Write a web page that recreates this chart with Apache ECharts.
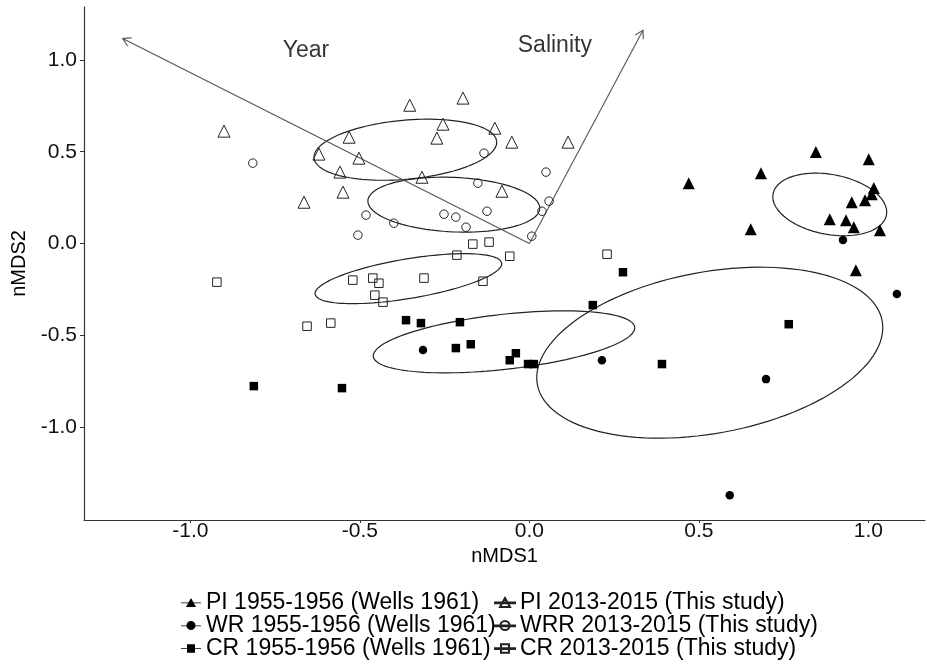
<!DOCTYPE html>
<html>
<head>
<meta charset="UTF-8">
<title>nMDS</title>
<script src="https://cdn.jsdelivr.net/npm/echarts@6/dist/echarts.min.js"></script>
<style>
html, body { margin: 0; padding: 0; background: #fff; }
#main { width: 927px; height: 665px; }
</style>
</head>
<body>
<div id="main"></div>
<script>
// series names (legend order)
var namePiOld = 'PI 1955-1956 (Wells 1961)';
var nameWrOld = 'WR 1955-1956 (Wells 1961)';
var nameCrOld = 'CR 1955-1956 (Wells 1961)';
var namePiNew = 'PI 2013-2015 (This study)';
var nameWrNew = 'WRR 2013-2015 (This study)';
var nameCrNew = 'CR 2013-2015 (This study)';

// nMDS scores [nMDS1, nMDS2]
var piOld = [[0.470, 0.329], [0.653, 0.078], [0.683, 0.383], [0.845, 0.498], [0.886, 0.133],
  [0.934, 0.127], [0.951, 0.225], [0.957, 0.089], [0.963, -0.145], [0.990, 0.236],
  [1.001, 0.459], [1.010, 0.269], [1.016, 0.302], [1.034, 0.073]];
var wrOld = [[-0.314, -0.580], [0.214, -0.635], [0.591, -1.370], [0.698, -0.738],
  [0.925, 0.019], [1.084, -0.275]];
var crOld = [[-0.813, -0.776], [-0.553, -0.787], [-0.364, -0.417], [-0.320, -0.433],
  [-0.217, -0.569], [-0.205, -0.428], [-0.173, -0.548], [-0.058, -0.635], [-0.040, -0.597],
  [-0.004, -0.656], [0.013, -0.656], [0.187, -0.335], [0.276, -0.156], [0.391, -0.656],
  [0.765, -0.439]];
var piNew = [[-0.901, 0.612], [-0.665, 0.225], [-0.621, 0.487], [-0.559, 0.389], [-0.550, 0.280],
  [-0.532, 0.579], [-0.503, 0.465], [-0.353, 0.753], [-0.317, 0.361], [-0.273, 0.574],
  [-0.255, 0.650], [-0.196, 0.792], [-0.102, 0.628], [-0.081, 0.285], [-0.052, 0.552],
  [0.114, 0.552]];
var wrNew = [[-0.816, 0.438], [-0.506, 0.046], [-0.482, 0.155], [-0.400, 0.111], [-0.252, 0.160],
  [-0.217, 0.144], [-0.187, 0.089], [-0.152, 0.329], [-0.134, 0.492], [-0.125, 0.176],
  [0.007, 0.040], [0.037, 0.176], [0.049, 0.389], [0.058, 0.231]];
var crNew = [[-0.922, -0.210], [-0.656, -0.450], [-0.586, -0.433], [-0.521, -0.199], [-0.462, -0.188],
  [-0.444, -0.216], [-0.456, -0.281], [-0.432, -0.319], [-0.311, -0.188], [-0.214, -0.063],
  [-0.167, -0.003], [-0.119, 0.008], [-0.137, -0.205], [-0.058, -0.069], [0.229, -0.058]];

// 95% ellipses: [centre x, centre y, semi-axis u (x, y), semi-axis v (x, y)]
var ellPiOld = [0.886, 0.213, 0.1673, -0.0577, -0.0162, -0.1604];
var ellWrOld = [0.532, -0.594, 0.5086, 0.1734, 0.0432, -0.4320];
var ellCrOld = [-0.075, -0.535, 0.3858, 0.0797, 0.0090, -0.1488];
var ellPiNew = [-0.366, 0.511, 0.2696, 0.0452, 0.0080, -0.1600];
var ellWrNew = [-0.223, 0.212, 0.2537, -0.0211, -0.0036, -0.1480];
var ellCrNew = [-0.357, -0.191, 0.2755, 0.0849, 0.0096, -0.1062];

// environmental vectors [x0, y0, x1, y1] and their labels
var vectors = [[0, 0, -1.200, 1.117], [0, 0, 0.335, 1.162]];
var vectorNames = ['Year', 'Salinity'];
var vectorLabelPos = [[-0.659, 1.053], [0.075, 1.075]];

var xTicks = [-1.0, -0.5, 0.0, 0.5, 1.0];
var yTicks = [-1.0, -0.5, 0.0, 0.5, 1.0];

var font = "'Liberation Sans', Arial, sans-serif";

function ellipsePoints(e) {
  var pts = [];
  for (var i = 0; i <= 120; i++) {
    var t = 2 * Math.PI * i / 120;
    pts.push([e[0] + e[2] * Math.cos(t) + e[4] * Math.sin(t),
              e[1] + e[3] * Math.cos(t) + e[5] * Math.sin(t)]);
  }
  return pts;
}

function ellipseSeries(e) {
  return {
    type: 'line', data: ellipsePoints(e), showSymbol: false, symbol: 'none',
    silent: true, smooth: false, z: 1,
    lineStyle: { color: '#222', width: 1.2 }
  };
}

function pointSeries(name, data, symbol, size, filled) {
  return {
    name: name, type: 'scatter', data: data, symbol: symbol, symbolSize: size, z: 3,
    itemStyle: filled ? { color: '#000', borderWidth: 0, opacity: 1 }
                      : { color: 'rgba(0,0,0,0)', borderColor: '#222', borderWidth: 1, opacity: 1 }
  };
}

// legend glyphs: symbol with a line through it
var iconTri = 'path://M0,6 L20,6 L20,6.8 L0,6.8 Z M10,1.5 L15,10.5 L5,10.5 Z';
var iconCir = 'path://M0,6 L20,6 L20,6.8 L0,6.8 Z M14.5,6 A4.5,4.5 0 1 1 5.5,6 A4.5,4.5 0 1 1 14.5,6 Z';
var iconSq = 'path://M0,6 L20,6 L20,6.8 L0,6.8 Z M6,2 L14,2 L14,10.5 L6,10.5 Z';

var legendText = { color: '#000', fontSize: 23, fontFamily: font, lineHeight: 23 };

var chart = echarts.init(document.getElementById('main'));

var option = {
  animation: false,
  backgroundColor: '#fff',
  grid: { left: 84, right: 2, top: 7, bottom: 145, containLabel: false, outerBoundsMode: 'none' },
  xAxis: {
    type: 'value', min: -1.314, max: 1.167,
    name: 'nMDS1', nameLocation: 'middle', nameGap: 11,
    nameTextStyle: { color: '#000', fontSize: 20, fontFamily: font },
    axisLine: { show: true, onZero: false, lineStyle: { color: '#333', width: 1.2 } },
    axisTick: { show: true, length: 3, customValues: xTicks, lineStyle: { color: '#333' } },
    axisLabel: { customValues: xTicks, margin: 1, color: '#111', fontSize: 21, fontFamily: font,
      formatter: function (v) { return v.toFixed(1); } },
    splitLine: { show: false }
  },
  yAxis: {
    type: 'value', min: -1.505, max: 1.288,
    name: 'nMDS2', nameLocation: 'middle', nameRotate: 90, nameGap: 40,
    nameTextStyle: { color: '#000', fontSize: 20, fontFamily: font },
    axisLine: { show: true, onZero: false, lineStyle: { color: '#333', width: 1.2 } },
    axisTick: { show: true, length: 4, customValues: yTicks, lineStyle: { color: '#333' } },
    axisLabel: { customValues: yTicks, margin: 7, color: '#111', fontSize: 21, fontFamily: font,
      formatter: function (v) { return v.toFixed(1); } },
    splitLine: { show: false }
  },
  legend: [{
    orient: 'vertical', left: 181, top: 591, height: 74, padding: 0,
    itemWidth: 20, itemHeight: 10, itemGap: 0, selectedMode: false,
    textStyle: legendText,
    data: [{ name: namePiOld, icon: iconTri }, { name: nameWrOld, icon: iconCir }, { name: nameCrOld, icon: iconSq }]
  }, {
    orient: 'vertical', left: 494, top: 591, height: 74, padding: 0,
    itemWidth: 20, itemHeight: 10, itemGap: 0, selectedMode: false,
    textStyle: legendText,
    data: [{ name: namePiNew, icon: iconTri }, { name: nameWrNew, icon: iconCir }, { name: nameCrNew, icon: iconSq }]
  }],
  series: [
    ellipseSeries(ellPiOld), ellipseSeries(ellWrOld), ellipseSeries(ellCrOld),
    ellipseSeries(ellPiNew), ellipseSeries(ellWrNew), ellipseSeries(ellCrNew),
    {
      type: 'custom', silent: true, z: 2,
      data: vectors,
      encode: { x: [0, 2], y: [1, 3] },
      renderItem: function (params, api) {
        var p0 = api.coord([api.value(0), api.value(1)]);
        var p1 = api.coord([api.value(2), api.value(3)]);
        var ang = Math.atan2(p1[1] - p0[1], p1[0] - p0[0]);
        var L = 9, a = Math.PI / 6;
        var h1 = [p1[0] - L * Math.cos(ang - a), p1[1] - L * Math.sin(ang - a)];
        var h2 = [p1[0] - L * Math.cos(ang + a), p1[1] - L * Math.sin(ang + a)];
        var st = { stroke: '#555', lineWidth: 1.1, fill: null };
        return {
          type: 'group', children: [
            { type: 'line', shape: { x1: p0[0], y1: p0[1], x2: p1[0], y2: p1[1] }, style: st },
            { type: 'polyline', shape: { points: [h1, p1, h2] }, style: st }
          ]
        };
      }
    },
    {
      type: 'scatter', silent: true, symbolSize: 0, z: 2,
      data: vectorLabelPos.map(function (p, i) { return { name: vectorNames[i], value: p }; }),
      label: { show: true, position: 'inside', formatter: '{b}', color: '#000', fontSize: 23, fontFamily: font }
    },
    pointSeries(namePiOld, piOld, 'triangle', 12, true),
    pointSeries(nameWrOld, wrOld, 'circle', 8.5, true),
    pointSeries(nameCrOld, crOld, 'rect', 8.5, true),
    pointSeries(namePiNew, piNew, 'triangle', 12, false),
    pointSeries(nameWrNew, wrNew, 'circle', 8.5, false),
    pointSeries(nameCrNew, crNew, 'rect', 8.5, false)
  ]
};

chart.setOption(option);
</script>
</body>
</html>
